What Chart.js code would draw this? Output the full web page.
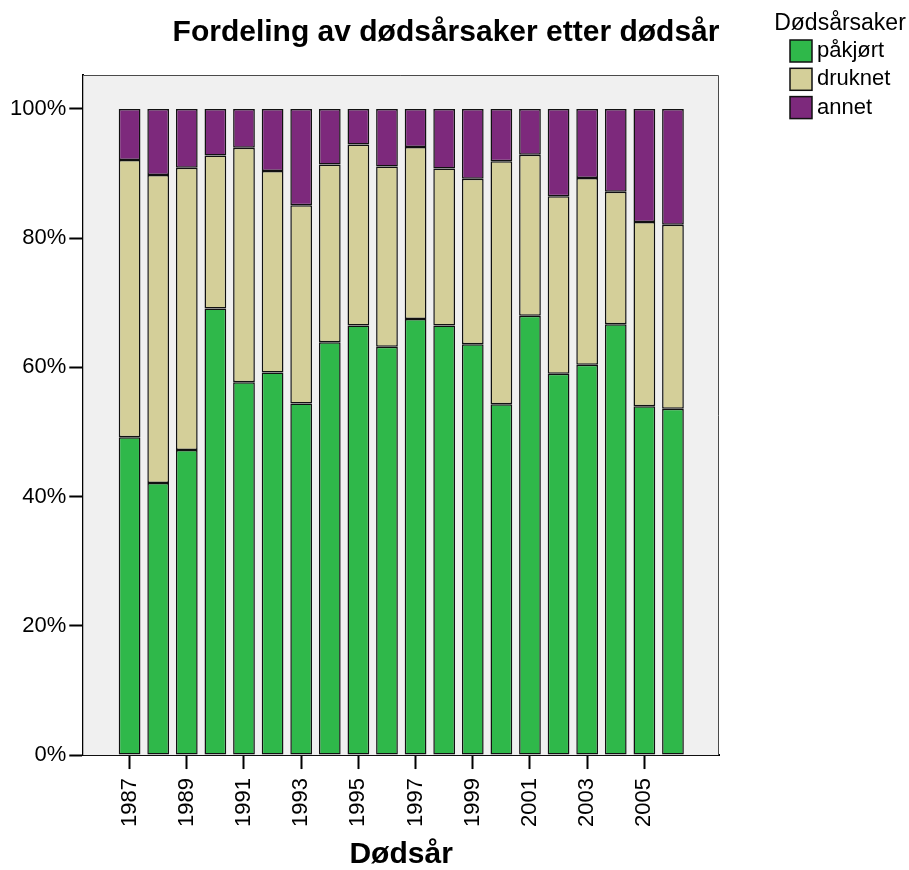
<!DOCTYPE html>
<html>
<head>
<meta charset="utf-8">
<script src="https://cdn.jsdelivr.net/npm/chart.js@4.4.1/dist/chart.umd.min.js"></script>
<style>
  html, body { margin: 0; padding: 0; background: #ffffff; }
  #wrap { width: 909px; height: 870px; position: relative; }
</style>
</head>
<body>
<div id="wrap"><canvas id="c" width="909" height="870"></canvas></div>
<script>
// Dødsår (år) og andel av dødsårsaker per år, i prosent
const years = [1987, 1988, 1989, 1990, 1991, 1992, 1993, 1994, 1995, 1996,
               1997, 1998, 1999, 2000, 2001, 2002, 2003, 2004, 2005, 2006];
const pakjort = [49.2, 42.1, 47.2, 69.1, 57.7, 59.2, 54.4, 63.9, 66.5, 63.2,
                 67.5, 66.5, 63.6, 54.3, 68.0, 59.0, 60.4, 66.7, 54.0, 53.6];
const druknet = [42.9, 47.7, 43.7, 23.7, 36.3, 31.2, 30.7, 27.5, 28.0, 27.9,
                 26.6, 24.3, 25.6, 37.6, 24.9, 27.5, 28.9, 20.5, 28.5, 28.5];
const annet   = [ 7.9, 10.2,  9.1,  7.2,  6.0,  9.6, 14.9,  8.6,  5.5,  8.9,
                  5.9,  9.2, 10.8,  8.1,  7.1, 13.5, 10.7, 12.8, 17.5, 17.9];
const xTickYears = [1987, 1989, 1991, 1993, 1995, 1997, 1999, 2001, 2003, 2005];
const yTickValues = [0, 20, 40, 60, 80, 100];
const seriesNames = ['påkjørt', 'druknet', 'annet'];
const chartTitle = 'Fordeling av dødsårsaker etter dødsår';
const legendTitle = 'Dødsårsaker';
const xAxisTitle = 'Dødsår';

const FONT = "'Liberation Sans', Arial, Helvetica, sans-serif";
const colors = ['#2fb84a', '#d4cf99', '#7d297c'];

// Grey plot panel with a thin frame on top and right
const panel = {
  id: 'panel',
  beforeDatasetsDraw(chart) {
    const { ctx, chartArea: a } = chart;
    ctx.save();
    ctx.fillStyle = '#f0f0f0';
    ctx.fillRect(a.left, a.top, a.right - a.left, a.bottom - a.top);
    ctx.strokeStyle = '#4a4a4a';
    ctx.lineWidth = 1;
    ctx.beginPath();
    ctx.moveTo(a.left, a.top + 0.5);
    ctx.lineTo(a.right - 0.5, a.top + 0.5);
    ctx.lineTo(a.right - 0.5, a.bottom);
    ctx.stroke();
    ctx.restore();
  }
};

// Main title and the legend block in the upper right corner
const headings = {
  id: 'headings',
  afterDraw(chart) {
    const { ctx } = chart;
    ctx.save();
    ctx.fillStyle = '#000';
    ctx.textBaseline = 'alphabetic';
    ctx.textAlign = 'center';
    ctx.font = 'bold 30px ' + FONT;
    ctx.fillText(chartTitle, 446, 41);

    ctx.font = '23px ' + FONT;
    ctx.fillText(legendTitle, 840, 30);

    ctx.textAlign = 'left';
    ctx.textBaseline = 'middle';
    ctx.font = '22px ' + FONT;
    chart.data.datasets.forEach((ds, i) => {
      const y = 40 + i * 28.3;
      ctx.fillStyle = ds.backgroundColor;
      ctx.fillRect(790, y, 22, 22);
      ctx.strokeStyle = '#111';
      ctx.lineWidth = 1.5;
      ctx.strokeRect(790, y, 22, 22);
      ctx.fillStyle = '#000';
      ctx.fillText(ds.label, 817, y + 11);
    });
    ctx.restore();
  }
};

const datasets = [pakjort, druknet, annet].map((vals, i) => ({
  label: seriesNames[i],
  data: vals,
  backgroundColor: colors[i],
  borderColor: '#111111',
  borderWidth: 1.5,
  borderSkipped: false,
  categoryPercentage: 1.0,
  barPercentage: 0.76
}));

new Chart(document.getElementById('c'), {
  type: 'bar',
  data: { labels: years, datasets },
  options: {
    responsive: false,
    animation: false,
    layout: { padding: { left: 7, right: 190, top: 75, bottom: 0 } },
    plugins: {
      legend: { display: false },
      title: { display: false },
      tooltip: { enabled: false }
    },
    scales: {
      x: {
        type: 'linear',
        stacked: true,
        offset: false,
        min: 1985.38,
        max: 2007.61,
        afterBuildTicks: (s) => { s.ticks = xTickYears.map(v => ({ value: v })); },
        ticks: {
          autoSkip: false,
          minRotation: 90,
          maxRotation: 90,
          padding: 9,
          color: '#000',
          font: { family: FONT, size: 22 },
          callback: (v) => String(v)
        },
        grid: {
          display: true,
          offset: false,
          drawOnChartArea: false,
          drawTicks: true,
          tickLength: 14,
          tickWidth: 2,
          tickColor: '#000'
        },
        border: { display: true, color: '#000', width: 2 },
        title: {
          display: true,
          text: xAxisTitle,
          color: '#000',
          font: { family: FONT, size: 30, weight: 'bold', lineHeight: 1 },
          padding: { top: 4, bottom: 0 }
        }
      },
      y: {
        stacked: true,
        min: 0,
        max: 105.26,
        afterBuildTicks: (s) => { s.ticks = yTickValues.map(v => ({ value: v })); },
        ticks: {
          padding: 3,
          color: '#000',
          font: { family: FONT, size: 22 },
          callback: (v) => v + '%'
        },
        grid: {
          display: true,
          drawOnChartArea: false,
          drawTicks: true,
          tickLength: 14,
          tickWidth: 2,
          tickColor: '#000'
        },
        border: { display: true, color: '#000', width: 2 }
      }
    }
  },
  plugins: [panel, headings]
});
</script>
</body>
</html>
